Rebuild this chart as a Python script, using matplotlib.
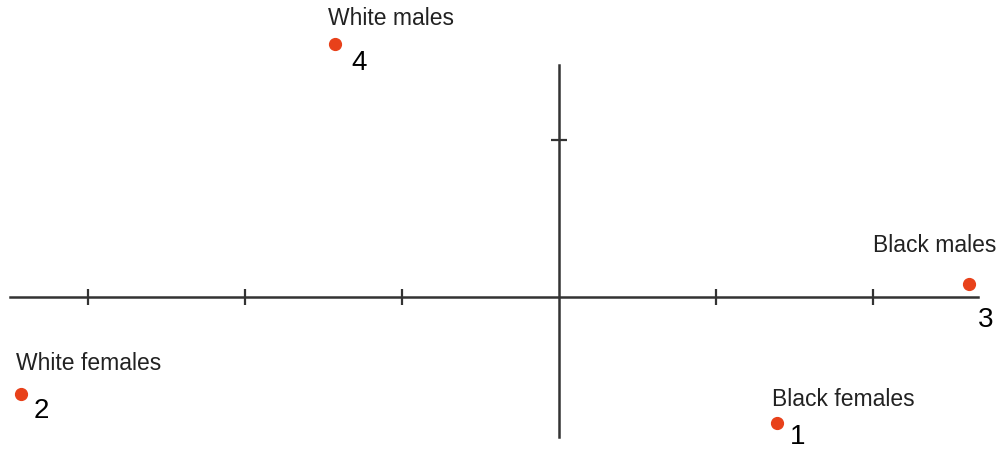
import matplotlib
matplotlib.use("Agg")
import matplotlib.pyplot as plt

# group positions on the two dimensions
groups = ["Black females", "White females", "Black males", "White males"]
numbers = ["1", "2", "3", "4"]
dim1 = [1.39, -3.43, 2.61, -1.43]
dim2 = [-0.80, -0.62, 0.08, 1.61]

xticks = [-3, -2, -1, 1, 2]
yticks = [1]

# label / number offsets in pixels from each point
name_off = [(-5, 17), (-5, 24), (-96, 32), (-7, 19)]
num_off = [(13, -21), (13, -24), (9, -43), (17, -26)]

plt.rcParams['font.family'] = ['Liberation Sans', 'DejaVu Sans']

fig = plt.figure(figsize=(10.08, 4.5), dpi=100)
ax = fig.add_axes([0, 0, 1, 1])
ax.set_xlim(-3.561, 2.860)
ax.set_ylim(-0.975, 1.892)

axcol = '#333333'
for s in ['top', 'right']:
    ax.spines[s].set_visible(False)
ax.spines['left'].set_position(('data', 0))
ax.spines['bottom'].set_position(('data', 0))
ax.spines['left'].set_bounds(-0.892, 1.478)
ax.spines['bottom'].set_bounds(-3.497, 2.669)
for s in ['left', 'bottom']:
    ax.spines[s].set_color(axcol)
    ax.spines[s].set_linewidth(1.8)

ax.set_xticks(xticks)
ax.set_yticks(yticks)
ax.tick_params(direction='inout', length=11, width=1.6, color=axcol,
               labelbottom=False, labelleft=False)

ax.plot(dim1, dim2, 'o', color='#e8411a', markersize=8.5, linestyle='none',
        zorder=3)

for i in range(len(groups)):
    ax.annotate(groups[i], (dim1[i], dim2[i]), xytext=name_off[i],
                textcoords='offset pixels', ha='left', va='baseline',
                fontsize=16.5, color='#222222')
    ax.annotate(numbers[i], (dim1[i], dim2[i]), xytext=num_off[i],
                textcoords='offset pixels', ha='left', va='baseline',
                fontsize=20, color='black')

fig.savefig('out.png', dpi=100)
